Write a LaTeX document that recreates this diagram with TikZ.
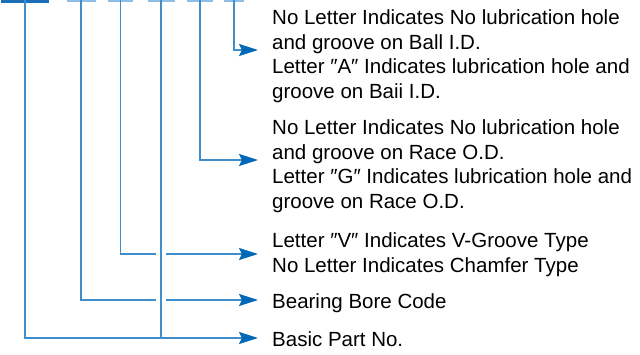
\documentclass[tikz,border=0pt]{standalone}
\usepackage{fontspec}
\setmainfont{Liberation Sans}
\usetikzlibrary{arrows.meta}
\definecolor{linec}{HTML}{3F8DCA}
\definecolor{arrc}{HTML}{0068B7}
\definecolor{topd}{HTML}{1A6FB8}
\definecolor{topl}{HTML}{8EBEE6}
\begin{document}
\begin{tikzpicture}[x=1pt,y=-1pt,
  segd/.style={fill=topd, inner sep=0pt, minimum height=2.4pt, anchor=north},
  segl/.style={fill=topl, inner sep=0pt, minimum height=2pt, anchor=north},
  wire/.style={draw=linec, line width=1.8pt},
  conn/.style={wire, -{Stealth[length=19pt,width=12pt,inset=3pt,color=arrc]}},
  halo/.style={draw=white, line width=10pt},
  lbl/.style={anchor=north west, inner sep=0pt, align=left,
    font=\fontsize{20.5}{24.5}\selectfont, text=black}]
\useasboundingbox (0,0) rectangle (640,354);
% top code segments
\node[segd, minimum width=48pt] (s1) at (25,0) {};
\node[segl, minimum width=29pt] (s2) at (81,0) {};
\node[segl, minimum width=25pt] (s3) at (120.5,0) {};
\node[segl, minimum width=27pt] (s4) at (161,0) {};
\node[segl, minimum width=26pt] (s5) at (200,0) {};
\node[segl, minimum width=20pt] (s6) at (234,0) {};
% arrow tips
\coordinate (a1) at (258,50);
\coordinate (a2) at (258,160);
\coordinate (a3) at (258,254);
\coordinate (a4) at (258,300);
\coordinate (a5) at (258,338);
% connectors
\draw[conn] (s6.north) |- (a1);
\draw[conn] (s5.north) |- (a2);
\draw[conn] (s3.north) |- (a3);
\draw[conn] (s2.north) |- (a4);
\draw[conn] (s1.north) |- (a5);
\draw[halo] (161,244) -- (161,310);
\draw[wire] (s4.north) -- (s4.north |- a5);
% labels
\node[lbl] (l1) at (272,9.7) {No Letter Indicates No lubrication hole\\and groove on Ball I.D.\\Letter ″A″ Indicates lubrication hole and\\groove on Baii I.D.};
\node[lbl] (l2) at (272,119.7) {No Letter Indicates No lubrication hole\\and groove on Race O.D.\\Letter ″G″ Indicates lubrication hole and\\groove on Race O.D.};
\node[lbl] (l3) at (272,232.7) {Letter ″V″ Indicates V-Groove Type\\No Letter Indicates Chamfer Type};
\node[lbl] (l4) at (272,293.7) {Bearing Bore Code};
\node[lbl] (l5) at (272,331.7) {Basic Part No.};
\end{tikzpicture}
\end{document}
